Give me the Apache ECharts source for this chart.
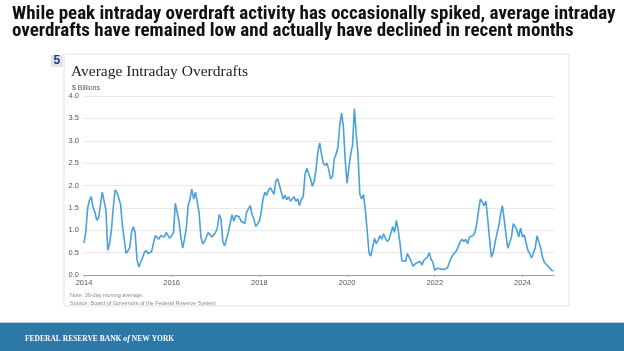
<!DOCTYPE html>
<html>
<head>
<meta charset="utf-8">
<script src="https://cdn.jsdelivr.net/npm/echarts@6/dist/echarts.min.js"></script>
<style>
  html, body { margin: 0; padding: 0; background: #fff; }
  #myChart { width: 624px; height: 351px; }
</style>
</head>
<body>
<div id="myChart"></div>
<script>
// semi-monthly readings, $ billions (24 per year, 30-day moving average)
const v2014 = [0.72, 0.97, 1.5, 1.67, 1.75, 1.5, 1.4, 1.22, 1.28, 1.25, 1.85, 1.65, 1.45, 0.55, 0.7, 1.0, 1.5, 1.9, 1.85, 1.72, 1.58, 1.12, 0.8, 0.48]
const v2015 = [0.45, 0.6, 0.95, 1.08, 0.95, 0.35, 0.18, 0.2, 0.38, 0.5, 0.55, 0.48, 0.45, 0.52, 0.7, 0.88, 0.87, 0.8, 0.88, 0.85, 0.85, 0.95, 0.98, 0.82]
const v2016 = [0.88, 0.95, 1.6, 1.6, 1.2, 0.85, 0.6, 0.8, 1.05, 1.55, 1.7, 1.92, 1.7, 1.85, 1.85, 1.4, 0.85, 0.7, 0.75, 0.85, 0.95, 0.92, 0.85, 0.9]
const v2017 = [0.95, 1.05, 1.35, 1.25, 0.75, 0.65, 0.67, 0.95, 1.15, 1.35, 1.2, 1.33, 1.32, 1.3, 1.2, 1.2, 1.15, 1.4, 1.48, 1.55, 1.35, 1.25, 1.08, 1.12]
const v2018 = [1.2, 1.4, 1.7, 1.85, 1.78, 1.9, 1.95, 1.88, 1.8, 2.1, 2.15, 2.0, 1.85, 1.7, 1.78, 1.68, 1.75, 1.65, 1.7, 1.75, 1.65, 1.7, 1.55, 1.7]
const v2019 = [1.75, 2.25, 2.38, 2.35, 2.15, 1.98, 2.1, 2.35, 2.75, 2.95, 2.7, 2.5, 2.45, 2.5, 2.35, 2.15, 2.2, 2.6, 2.7, 2.85, 3.35, 3.62, 3.3, 2.55]
const v2020 = [2.05, 2.4, 2.7, 2.9, 3.72, 3.15, 2.7, 1.8, 1.7, 1.8, 1.45, 1.0, 0.5, 0.42, 0.62, 0.82, 0.7, 0.78, 0.88, 0.8, 0.92, 0.82, 0.75, 0.8]
const v2021 = [0.8, 1.08, 0.95, 1.22, 1.0, 0.7, 0.32, 0.28, 0.3, 0.48, 0.45, 0.32, 0.2, 0.2, 0.27, 0.28, 0.3, 0.22, 0.33, 0.3, 0.4, 0.5, 0.35, 0.28]
const v2022 = [0.1, 0.15, 0.12, 0.14, 0.1, 0.12, 0.1, 0.16, 0.28, 0.38, 0.45, 0.48, 0.55, 0.65, 0.75, 0.8, 0.75, 0.8, 0.7, 0.85, 0.88, 0.88, 0.95, 1.15]
const v2023 = [1.45, 1.7, 1.72, 1.55, 1.65, 1.25, 0.8, 0.4, 0.5, 0.72, 0.92, 1.08, 1.35, 1.55, 1.25, 0.9, 0.6, 0.72, 0.85, 1.15, 1.08, 1.0, 0.85, 1.05]
const v2024 = [0.85, 0.9, 0.72, 0.55, 0.48, 0.38, 0.4, 0.6, 0.88, 0.9, 0.6, 0.4, 0.28, 0.25, 0.2, 0.15, 0.1, 0.09]

const years = [2014, 2015, 2016, 2017, 2018, 2019, 2020, 2021, 2022, 2023, 2024]
const yearValues = [v2014, v2015, v2016, v2017, v2018, v2019, v2020, v2021, v2022, v2023, v2024]
const yTicks = ['0.0', '0.5', '1.0', '1.5', '2.0', '2.5', '3.0', '3.5', '4.0']

let seriesData = []
for (let k = 0; k < years.length; k++) {
  for (let i = 0; i < yearValues[k].length; i++) {
    seriesData.push([years[k] + i / 24, yearValues[k][i]])
  }
}

let myChart = echarts.init(document.getElementById('myChart'))
myChart.setOption({
  backgroundColor: '#fff',
  animation: false,
  title: [
    {
      text: 'While peak intraday overdraft activity has occasionally spiked, average intraday\noverdrafts have remained low and actually have declined in recent months',
      left: 7,
      top: 1,
      textStyle: {
        fontFamily: '"Liberation Sans Narrow", "Roboto Condensed", Roboto, sans-serif',
        fontWeight: 'bold',
        fontSize: 19,
        lineHeight: 16.5,
        color: '#111',
      },
    },
    {
      text: 'Average Intraday Overdrafts',
      left: 66,
      top: 59,
      textStyle: {
        fontFamily: '"Liberation Serif", serif',
        fontWeight: 'normal',
        fontSize: 15.5,
        color: '#222',
      },
    },
    {
      text: '$ Billions',
      left: 67,
      top: 80,
      textStyle: { fontFamily: 'Arial, "Liberation Sans", sans-serif', fontWeight: 'normal', fontSize: 7, color: '#555' },
    },
    {
      text: 'Note: 30-day moving average.\nSource: Board of Governors of the Federal Reserve System',
      left: 65,
      top: 287,
      textStyle: { fontFamily: 'Arial, "Liberation Sans", sans-serif', fontWeight: 'normal', fontSize: 5.5, lineHeight: 7.5, color: '#8a8a8a' },
    },
  ],
  graphic: [
    {
      type: 'rect',
      shape: { x: 64, y: 54, width: 505, height: 252 },
      style: { fill: '#fff', stroke: '#e2e2e2', lineWidth: 1 },
      z: -10,
    },
    {
      type: 'rect',
      shape: { x: 51, y: 55, width: 12, height: 12 },
      style: { fill: '#dfe4ea' },
    },
    {
      type: 'text',
      left: 53.5,
      top: 55,
      style: { text: '5', fill: '#1f3d78', font: 'bold 12px "Liberation Sans", Arial, sans-serif' },
    },
    {
      type: 'rect',
      shape: { x: 0, y: 323, width: 624, height: 28 },
      style: { fill: '#2c78a7' },
    },
    {
      type: 'rect',
      shape: { x: 0, y: 322, width: 624, height: 1 },
      style: { fill: '#b9c8d6' },
    },
    {
      type: 'text',
      left: 25,
      top: 335,
      style: {
        text: '{a|FEDERAL RESERVE BANK }{b|of}{a| NEW YORK}',
        fill: '#fff',
        rich: {
          a: { fontFamily: '"Liberation Serif", serif', fontSize: 7.5, fontWeight: 'bold', color: '#fff' },
          b: { fontFamily: '"Liberation Serif", serif', fontSize: 8, fontStyle: 'italic', fontWeight: 'bold', color: '#fff' },
        },
      },
    },
  ],
  grid: {
    left: 84,
    right: 70,
    top: 96,
    bottom: 76,
    containLabel: false,
  },
  xAxis: {
    type: 'value',
    min: 2014,
    max: 2024.72,
    interval: 2,
    axisLine: { show: true, lineStyle: { color: '#a0a0a0', width: 1 } },
    axisTick: { show: true, length: 2, lineStyle: { color: '#a0a0a0' } },
    splitLine: { show: false },
    axisLabel: {
      showMaxLabel: false,
      margin: 4,
      fontSize: 7.5,
      color: '#555',
      fontFamily: 'Arial, "Liberation Sans", sans-serif',
      formatter: function (v) {
        return v % 2 === 0 ? String(v) : ''
      },
    },
  },
  yAxis: {
    type: 'value',
    min: 0,
    max: 4,
    interval: 0.5,
    axisLine: { show: false },
    axisTick: { show: false },
    splitLine: { lineStyle: { color: '#e8e8e8', width: 1 } },
    axisLabel: {
      margin: 5,
      fontSize: 7.5,
      color: '#555',
      fontFamily: 'Arial, "Liberation Sans", sans-serif',
      formatter: function (v) {
        return yTicks[Math.round(v * 2)]
      },
    },
  },
  series: [
    {
      name: 'Average Intraday Overdrafts',
      type: 'line',
      data: seriesData,
      showSymbol: false,
      smooth: false,
      lineStyle: { color: '#4aa0df', width: 1.6 },
    },
  ],
})
</script>
</body>
</html>
